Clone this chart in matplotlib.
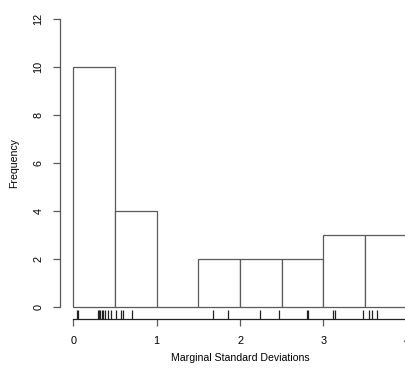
import matplotlib
matplotlib.use("Agg")
import matplotlib.pyplot as plt
import numpy as np

# marginal standard deviations
sd_values = [0.04, 0.06, 0.29, 0.31, 0.32, 0.34, 0.36, 0.38, 0.42, 0.45,
             0.51, 0.57, 0.60, 0.70,
             1.67, 1.85,
             2.24, 2.47,
             2.80, 2.82,
             3.12, 3.14, 3.48,
             3.55, 3.59, 3.65]
bin_edges = [0, 0.5, 1, 1.5, 2, 2.5, 3, 3.5, 4]
x_ticks = [0, 1, 2, 3, 4]
y_ticks = [0, 2, 4, 6, 8, 10, 12]

plt.rcParams['font.family'] = ['Liberation Sans', 'DejaVu Sans']
line_col = '#5a5a5a'

fig = plt.figure(figsize=(4.05, 3.76), dpi=100)
# plot region runs a little past the right edge, like the cropped original
ax = fig.add_axes([60 / 405, 57 / 376, 360 / 405, 312 / 376])

counts, edges = np.histogram(sd_values, bins=bin_edges)
ax.bar(edges[:-1], counts, width=np.diff(edges), align='edge',
       color='white', edgecolor=line_col, linewidth=0.9)

# rug along the bottom
ax.vlines(sd_values, 0, 0.03, transform=ax.get_xaxis_transform(),
          color='#222222', linewidth=0.9)

ax.set_xlim(-0.16, 4.16)
ax.set_ylim(-0.48, 12.48)

for s in ['top', 'right']:
    ax.spines[s].set_visible(False)
ax.spines['bottom'].set_bounds(0, 4)
ax.spines['left'].set_bounds(0, 12)
ax.spines['bottom'].set_color('#222222')
ax.spines['left'].set_color(line_col)
for s in ['bottom', 'left']:
    ax.spines[s].set_linewidth(0.9)

ax.set_xticks(x_ticks)
ax.set_yticks(y_ticks)
ax.set_yticklabels([str(v) for v in y_ticks], rotation=90, va='center')
ax.tick_params(axis='both', length=5, width=0.9, color=line_col, labelsize=7.8)
ax.tick_params(axis='x', pad=7)
ax.tick_params(axis='y', pad=7)

ax.set_xlabel("Marginal Standard Deviations", fontsize=7.6, labelpad=5)
ax.set_ylabel("Frequency", fontsize=7.6, labelpad=10)

fig.savefig("out.png", dpi=100)
